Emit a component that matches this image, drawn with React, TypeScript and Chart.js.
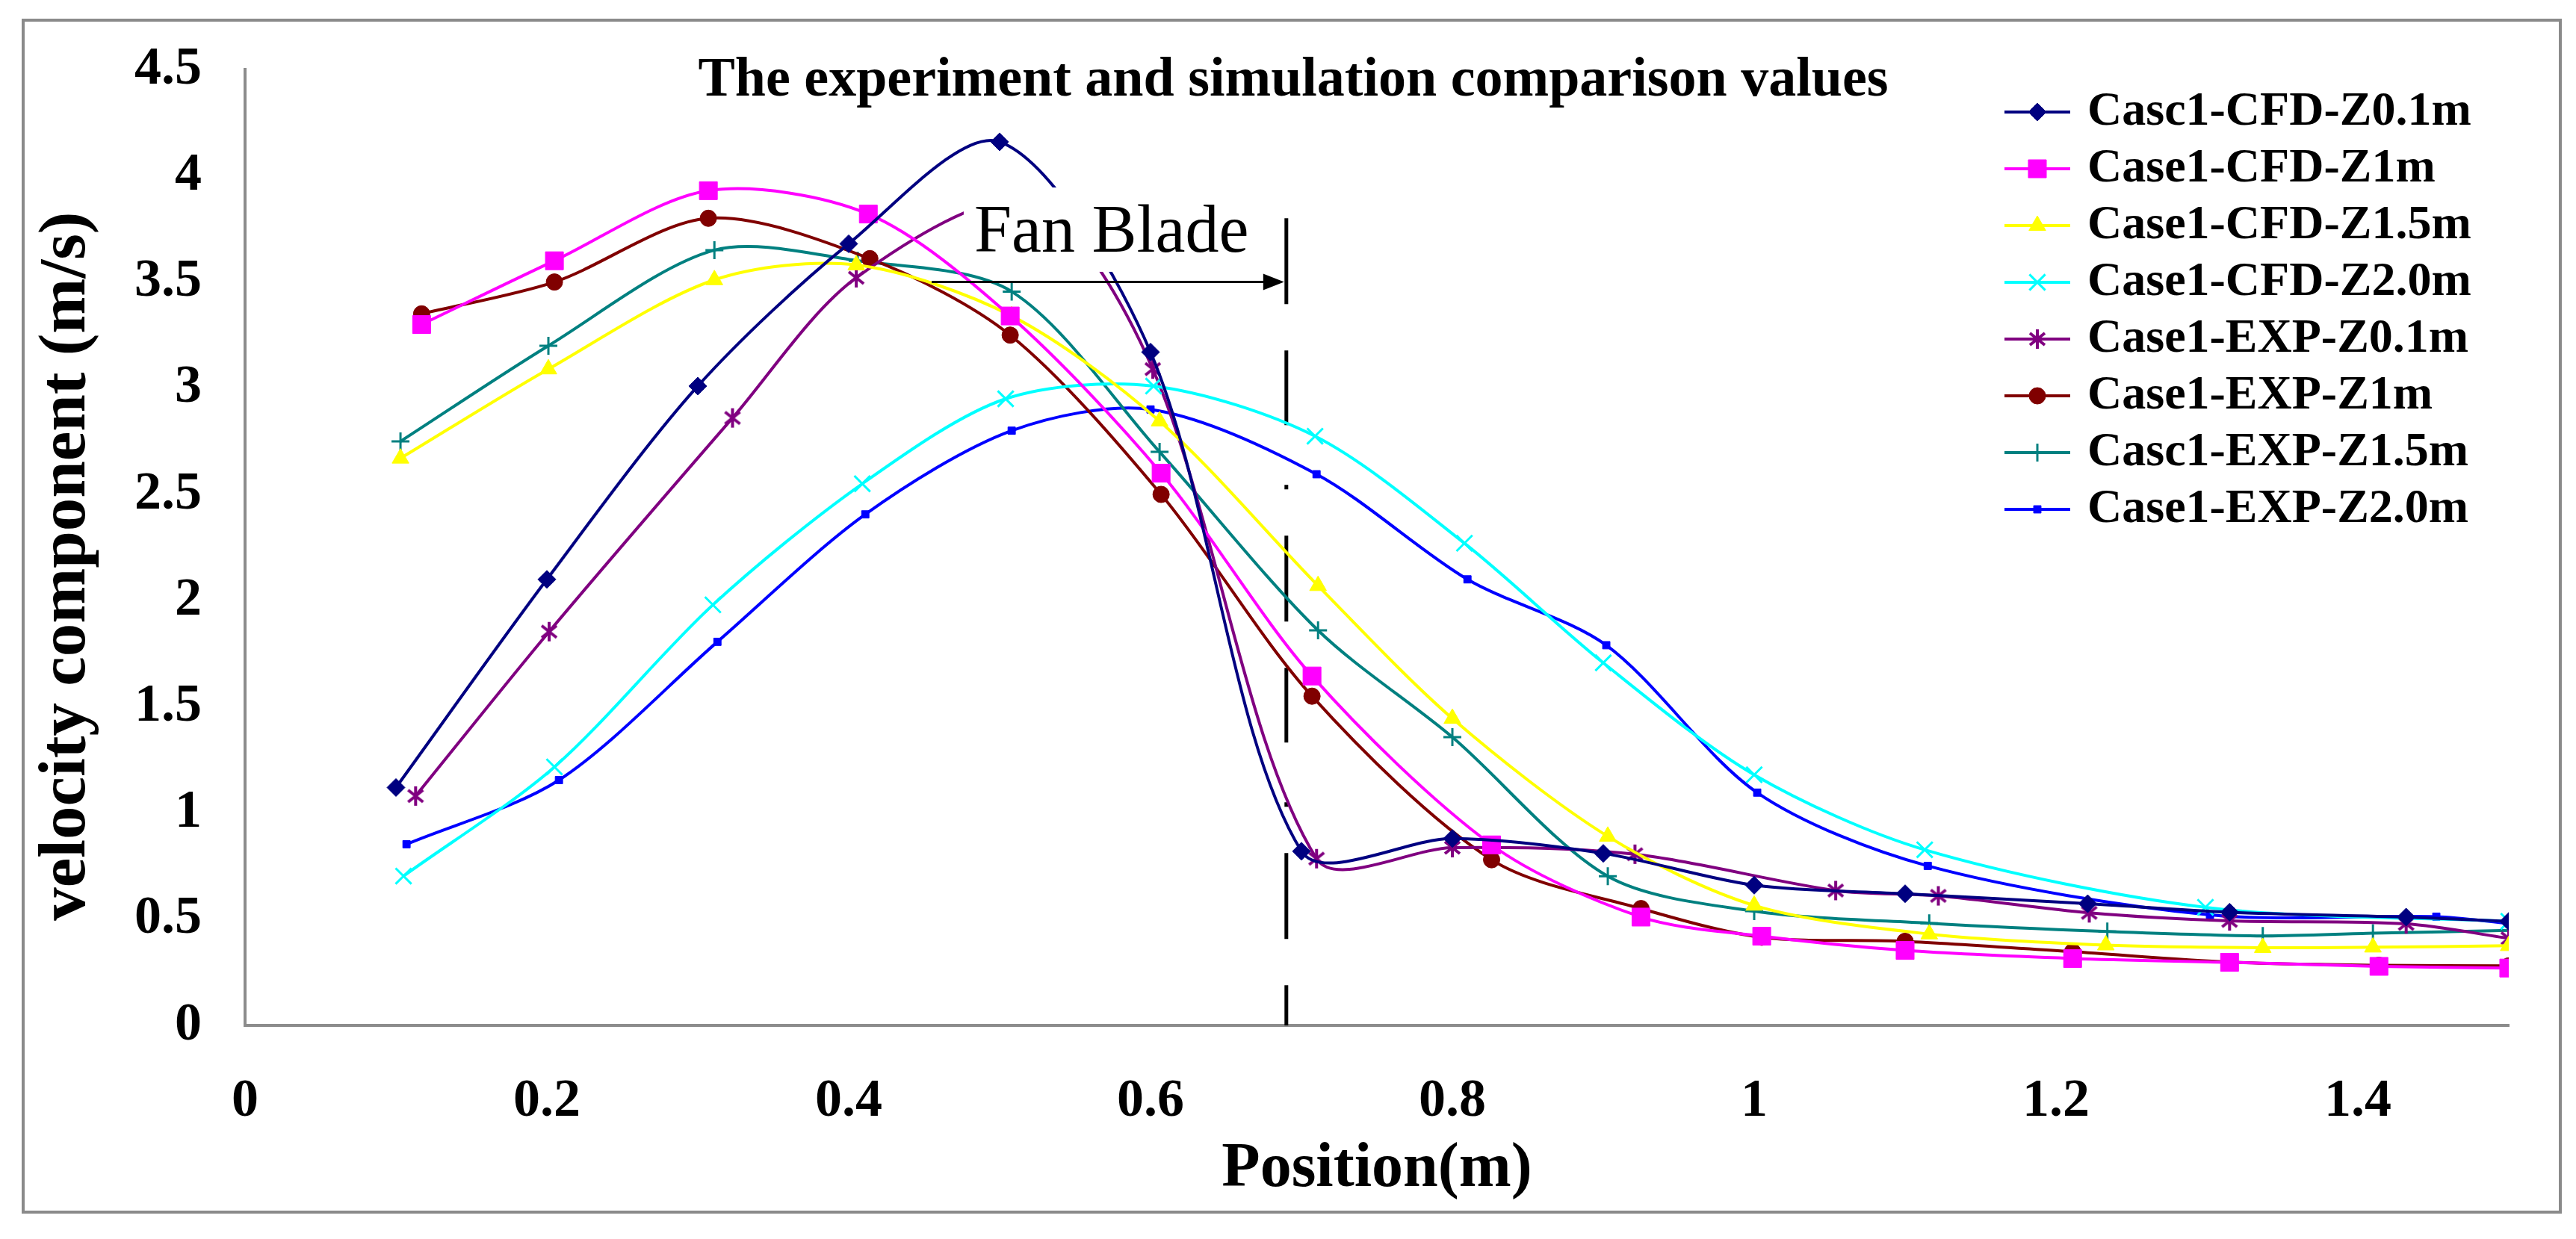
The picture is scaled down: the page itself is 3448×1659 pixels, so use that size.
import React, { useEffect, useRef } from 'react';
import { Chart, registerables } from 'chart.js';
import { drawPoint } from 'chart.js/helpers';

Chart.register(...registerables);

const FONT = '"Liberation Serif", "Times New Roman", serif';

const chartTitle = 'The experiment and simulation comparison values';
const xAxisTitle = 'Position(m)';
const yAxisTitle = 'velocity component (m/s)';
const annotationText = 'Fan Blade';

// annotation anchors (data space)
const fanBladeX = 0.69;
const fanBladeTop = 3.8;
const arrowFromX = 0.455;
const arrowY = 3.5;

// axis ranges / ticks
const xMin = 0;
const xMax = 1.5;
const xStep = 0.2;
const yMin = 0;
const yMax = 4.5;
const yStep = 0.5;

// ---- series values ----
const cfdZ01X = [0.1, 0.2, 0.3, 0.4, 0.5, 0.6, 0.7, 0.8, 0.9, 1.0, 1.1, 1.221, 1.315, 1.432, 1.5];
const cfdZ01Y = [1.12, 2.1, 3.01, 3.68, 4.16, 3.17, 0.82, 0.88, 0.81, 0.66, 0.62, 0.573, 0.533, 0.51, 0.49];

const cfdZ1X = [0.117, 0.205, 0.307, 0.413, 0.507, 0.607, 0.707, 0.826, 0.925, 1.005, 1.1, 1.211, 1.315, 1.414, 1.5];
const cfdZ1Y = [3.3, 3.6, 3.93, 3.82, 3.34, 2.6, 1.645, 0.85, 0.51, 0.42, 0.353, 0.315, 0.297, 0.278, 0.27];

const cfdZ15X = [0.103, 0.201, 0.311, 0.405, 0.508, 0.606, 0.711, 0.8, 0.903, 1.0, 1.116, 1.233, 1.337, 1.41, 1.5];
const cfdZ15Y = [2.67, 3.09, 3.51, 3.58, 3.34, 2.845, 2.07, 1.445, 0.89, 0.565, 0.43, 0.378, 0.366, 0.368, 0.375];

const cfdZ20X = [0.105, 0.205, 0.31, 0.409, 0.504, 0.602, 0.709, 0.808, 0.9, 1.0, 1.113, 1.299, 1.5];
const cfdZ20Y = [0.703, 1.217, 1.98, 2.55, 2.95, 3.01, 2.774, 2.27, 1.707, 1.18, 0.827, 0.556, 0.49];

const expZ01X = [0.113, 0.2015, 0.323, 0.405, 0.52, 0.6015, 0.71, 0.8, 0.921, 1.054, 1.122, 1.222, 1.315, 1.432, 1.5];
const expZ01Y = [1.08, 1.854, 2.86, 3.52, 3.88, 3.09, 0.785, 0.837, 0.806, 0.635, 0.61, 0.53, 0.492, 0.478, 0.41];

const expZ1X = [0.117, 0.205, 0.307, 0.414, 0.507, 0.607, 0.707, 0.826, 0.925, 1.005, 1.1, 1.211, 1.315, 1.414, 1.5];
const expZ1Y = [3.35, 3.5, 3.8, 3.61, 3.25, 2.5, 1.55, 0.78, 0.55, 0.415, 0.396, 0.347, 0.298, 0.283, 0.28];

const expZ15X = [0.103, 0.201, 0.311, 0.406, 0.508, 0.606, 0.711, 0.8, 0.903, 1.0, 1.116, 1.234, 1.337, 1.41, 1.5];
const expZ15Y = [2.75, 3.2, 3.65, 3.6, 3.455, 2.7, 1.86, 1.357, 0.702, 0.538, 0.481, 0.442, 0.421, 0.434, 0.447];

const expZ20X = [0.107, 0.208, 0.313, 0.411, 0.508, 0.6, 0.71, 0.81, 0.902, 1.002, 1.115, 1.302, 1.452, 1.5];
const expZ20Y = [0.853, 1.155, 1.806, 2.406, 2.8, 2.9, 2.595, 2.1, 1.79, 1.096, 0.751, 0.52, 0.512, 0.48];

const seriesNames = [
  'Casc1-CFD-Z0.1m',
  'Case1-CFD-Z1m',
  'Case1-CFD-Z1.5m',
  'Case1-CFD-Z2.0m',
  'Case1-EXP-Z0.1m',
  'Case1-EXP-Z1m',
  'Casc1-EXP-Z1.5m',
  'Case1-EXP-Z2.0m',
];
const seriesColors = ['#000080', '#FF00FF', '#FFFF00', '#00FFFF', '#800080', '#800000', '#008080', '#0000FF'];
const seriesX = [cfdZ01X, cfdZ1X, cfdZ15X, cfdZ20X, expZ01X, expZ1X, expZ15X, expZ20X];
const seriesY = [cfdZ01Y, cfdZ1Y, cfdZ15Y, cfdZ20Y, expZ01Y, expZ1Y, expZ15Y, expZ20Y];

function makeStarMarker(color: string): HTMLCanvasElement {
  const c = document.createElement('canvas');
  c.width = 28;
  c.height = 28;
  const g = c.getContext('2d')!;
  g.strokeStyle = color;
  g.lineWidth = 4;
  g.beginPath();
  g.moveTo(4, 6); g.lineTo(24, 22);
  g.moveTo(24, 6); g.lineTo(4, 22);
  g.moveTo(14, 1); g.lineTo(14, 27);
  g.stroke();
  return c;
}

export default function App() {
  const canvasRef = useRef<HTMLCanvasElement | null>(null);

  useEffect(() => {
    document.body.style.margin = '0';
    const canvas = canvasRef.current;
    if (!canvas) return;

    const star = makeStarMarker(seriesColors[4]);
    const markers: any[] = [
      { pointStyle: 'rectRot', radius: 12, borderWidth: 1 },
      { pointStyle: 'rect', radius: 17, borderWidth: 1 },
      { pointStyle: 'triangle', radius: 13, borderWidth: 1 },
      { pointStyle: 'crossRot', radius: 15, borderWidth: 3 },
      { pointStyle: star, radius: 14, borderWidth: 0 },
      { pointStyle: 'circle', radius: 11, borderWidth: 1 },
      { pointStyle: 'cross', radius: 12, borderWidth: 3 },
      { pointStyle: 'rect', radius: 7, borderWidth: 1 },
    ];

    const datasets = seriesNames.map((name, i) => ({
      label: name,
      data: seriesX[i].map((x, k) => ({ x, y: seriesY[i][k] })),
      borderColor: seriesColors[i],
      backgroundColor: seriesColors[i],
      pointBackgroundColor: seriesColors[i],
      pointBorderColor: seriesColors[i],
      borderWidth: 4,
      tension: 0.3,
      pointStyle: markers[i].pointStyle,
      pointRadius: markers[i].radius,
      pointBorderWidth: markers[i].borderWidth,
      fill: false,
    }));

    const decor = {
      id: 'decor',
      beforeDatasetsDraw(chart: any) {
        const { ctx, scales } = chart;
        const x = scales.x, y = scales.y;
        const px = x.getPixelForValue(fanBladeX);
        ctx.save();
        ctx.strokeStyle = '#000';
        ctx.lineWidth = 5;
        ctx.setLineDash([115, 62, 100, 80, 6, 62]);
        ctx.beginPath();
        ctx.moveTo(px, y.getPixelForValue(fanBladeTop));
        ctx.lineTo(px, y.getPixelForValue(0));
        ctx.stroke();
        ctx.restore();
      },
      afterDatasetsDraw(chart: any) {
        const { ctx, scales } = chart;
        const x = scales.x, y = scales.y;
        // white box behind annotation text
        const bl = x.getPixelForValue(0.4762);
        const br = x.getPixelForValue(0.679);
        const bt = y.getPixelForValue(3.945);
        const bb = y.getPixelForValue(3.548);
        ctx.save();
        ctx.fillStyle = '#fff';
        ctx.fillRect(bl, bt, br - bl, bb - bt);
        ctx.fillStyle = '#000';
        ctx.font = `90px ${FONT}`;
        ctx.textAlign = 'left';
        ctx.textBaseline = 'alphabetic';
        ctx.fillText(annotationText, x.getPixelForValue(0.4832), y.getPixelForValue(3.643));
        // arrow
        const ay = y.getPixelForValue(arrowY);
        const ax0 = x.getPixelForValue(arrowFromX);
        const ax1 = x.getPixelForValue(fanBladeX) - 3;
        ctx.strokeStyle = '#000';
        ctx.lineWidth = 3;
        ctx.beginPath();
        ctx.moveTo(ax0, ay);
        ctx.lineTo(ax1 - 20, ay);
        ctx.stroke();
        ctx.beginPath();
        ctx.moveTo(ax1, ay);
        ctx.lineTo(ax1 - 28, ay - 11);
        ctx.lineTo(ax1 - 28, ay + 11);
        ctx.closePath();
        ctx.fill();
        ctx.restore();
      },
      afterDraw(chart: any) {
        const { ctx, chartArea } = chart;
        ctx.save();
        // title
        ctx.fillStyle = '#000';
        ctx.font = `bold 74px ${FONT}`;
        ctx.textAlign = 'center';
        ctx.textBaseline = 'alphabetic';
        ctx.fillText(chartTitle, 1731, 128);
        // x axis title
        ctx.font = `bold 84px ${FONT}`;
        ctx.fillText(xAxisTitle, (chartArea.left + chartArea.right) / 2, 1588);
        // y axis title
        ctx.save();
        ctx.translate(90, (chartArea.top + chartArea.bottom) / 2 + 25);
        ctx.rotate(-Math.PI / 2);
        ctx.font = `bold 89px ${FONT}`;
        ctx.textBaseline = 'middle';
        ctx.fillText(yAxisTitle, 0, 0);
        ctx.restore();
        // legend
        const lx0 = 2683, lx1 = 2771, tx = 2794, ly0 = 150, dy = 76;
        ctx.font = `bold 64px ${FONT}`;
        ctx.textAlign = 'left';
        ctx.textBaseline = 'middle';
        seriesNames.forEach((name, i) => {
          const ly = ly0 + dy * i;
          ctx.strokeStyle = seriesColors[i];
          ctx.lineWidth = 4;
          ctx.beginPath();
          ctx.moveTo(lx0, ly);
          ctx.lineTo(lx1, ly);
          ctx.stroke();
          ctx.fillStyle = seriesColors[i];
          ctx.lineWidth = markers[i].borderWidth || 1;
          drawPoint(ctx, { pointStyle: markers[i].pointStyle, radius: markers[i].radius, borderWidth: markers[i].borderWidth, rotation: 0 } as any, (lx0 + lx1) / 2, ly);
          ctx.fillStyle = '#000';
          ctx.fillText(name, tx, ly);
        });
        // outer frame
        ctx.strokeStyle = '#8a8a8a';
        ctx.lineWidth = 4;
        ctx.strokeRect(31, 27, 3396, 1596);
        ctx.restore();
      },
    };

    const tickFont = { family: FONT, size: 72, weight: 'bold' as const };

    const chart = new Chart(canvas, {
      type: 'line',
      data: { datasets: datasets as any },
      options: {
        animation: false,
        responsive: false,
        layout: { padding: { top: 93, right: 90, left: 0, bottom: 0 } },
        plugins: {
          legend: { display: false },
          title: { display: false },
          tooltip: { enabled: false },
        },
        scales: {
          x: {
            type: 'linear',
            min: xMin,
            max: xMax,
            grid: { display: false },
            border: { display: true, color: '#8c8c8c', width: 4 },
            ticks: {
              stepSize: xStep,
              includeBounds: false,
              font: tickFont,
              color: '#000',
              padding: 51,
              callback: (v: any) => String(Math.round(Number(v) * 10) / 10),
            },
            afterFit: (s: any) => { s.height = 286; },
          },
          y: {
            type: 'linear',
            min: yMin,
            max: yMax,
            grid: { display: false },
            border: { display: true, color: '#8c8c8c', width: 4 },
            ticks: {
              stepSize: yStep,
              font: tickFont,
              color: '#000',
              padding: 50,
              callback: (v: any) => String(Math.round(Number(v) * 10) / 10),
            },
            afterFit: (s: any) => { s.width = 328; },
          },
        },
      },
      plugins: [decor],
    });

    return () => chart.destroy();
  }, []);

  return (
    <div style={{ width: 3448, height: 1659, background: '#fff' }}>
      <canvas ref={canvasRef} width={3448} height={1659} style={{ display: 'block', width: 3448, height: 1659 }} />
    </div>
  );
}
